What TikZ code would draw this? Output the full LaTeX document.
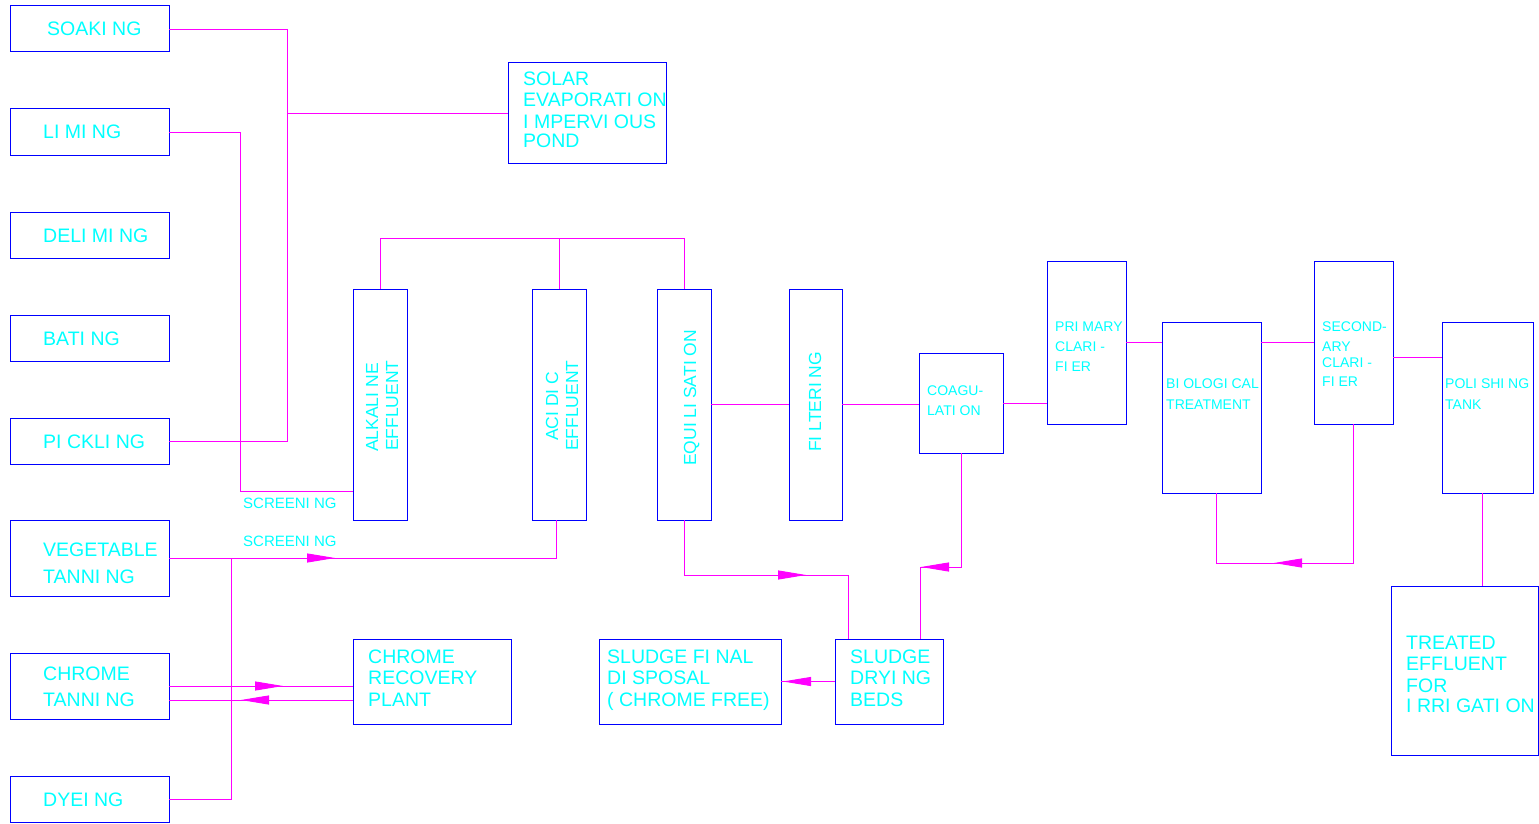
\documentclass[tikz,border=0pt]{standalone}
\usepackage{fontspec}
\setmainfont{Liberation Sans}
\usetikzlibrary{arrows.meta,decorations.markings}
\definecolor{boxblue}{RGB}{0,0,255}
\definecolor{wirem}{RGB}{255,0,255}
\definecolor{txtc}{RGB}{0,255,255}
\begin{document}
\begin{tikzpicture}[x=1pt,y=-1pt,
  box/.style={draw=boxblue, line width=1pt, inner sep=0pt, outer sep=0pt, anchor=north west},
  wire/.style={color=wirem, line width=0.9pt},
  arr/.style={postaction={decorate}, decoration={markings, mark=at position #1 with {\arrow{Triangle[length=28pt,width=9pt]}}}},
  big/.style={font=\fontsize{19.5}{21}\selectfont, text=txtc, inner sep=0pt, anchor=base west},
  small/.style={font=\fontsize{14}{16}\selectfont, text=txtc, inner sep=0pt, anchor=base west},
  scr/.style={font=\fontsize{15}{17}\selectfont, text=txtc, inner sep=0pt, anchor=base west},
  vert/.style={font=\fontsize{17.5}{19}\selectfont, text=txtc, inner sep=0pt, anchor=base west, rotate=90}]
\useasboundingbox (0,0) rectangle (1539,824);
% left column
\node[box, minimum width=159pt, minimum height=46pt] (soak) at (10,6) {};
\node[box, minimum width=159pt, minimum height=46pt] (lim) at (10,109) {};
\node[box, minimum width=159pt, minimum height=46pt] (delim) at (10,212) {};
\node[box, minimum width=159pt, minimum height=46pt] (bat) at (10,315) {};
\node[box, minimum width=159pt, minimum height=46pt] (pick) at (10,418) {};
\node[box, minimum width=159pt, minimum height=76pt] (veg) at (10,520) {};
\node[box, minimum width=159pt, minimum height=66pt] (ct) at (10,653) {};
\node[box, minimum width=159pt, minimum height=46pt] (dye) at (10,776) {};
\node[big] (tsoak) at (47,36) {SOAKI NG};
\node[big] (tlim) at (43,139) {LI MI NG};
\node[big] (tdelim) at (43,242) {DELI MI NG};
\node[big] (tbat) at (43,345) {BATI NG};
\node[big] (tpick) at (43,448) {PI CKLI NG};
\node[big] (tveg1) at (43,556) {VEGETABLE};
\node[big] (tveg2) at (43,583) {TANNI NG};
\node[big] (tct1) at (43,680) {CHROME};
\node[big] (tct2) at (43,706) {TANNI NG};
\node[big] (tdye) at (43,806) {DYEI NG};
% solar
\node[box, minimum width=158pt, minimum height=100pt] (solar) at (508,63) {};
\node[big] (tsol1) at (523,86) {SOLAR};
\node[big] (tsol2) at (523,107) {EVAPORATI ON};
\node[big] (tsol3) at (523,129) {I MPERVI OUS};
\node[big] (tsol4) at (523,148) {POND};
% vertical boxes
\node[box, minimum width=54pt, minimum height=231pt] (alk) at (353,289) {};
\node[box, minimum width=54pt, minimum height=231pt] (acid) at (532,289) {};
\node[box, minimum width=54pt, minimum height=231pt] (equ) at (657,289) {};
\node[box, minimum width=53pt, minimum height=231pt] (filt) at (789,289) {};
\node[vert] (talk1) at (378,452) {ALKALI NE};
\node[vert] (talk2) at (398,451) {EFFLUENT};
\node[vert] (tacid1) at (558,441) {ACI DI C};
\node[vert] (tacid2) at (578,451) {EFFLUENT};
\node[vert] (tequ) at (696,466) {EQUI LI SATI ON};
\node[vert] (tfilt) at (821,452) {FI LTERI NG};
% treatment chain
\node[box, minimum width=84pt, minimum height=100pt] (coag) at (919,353) {};
\node[box, minimum width=79pt, minimum height=163pt] (prim) at (1047,261) {};
\node[box, minimum width=99pt, minimum height=171pt] (bio) at (1162,322) {};
\node[box, minimum width=79pt, minimum height=163pt] (sec) at (1314,261) {};
\node[box, minimum width=91pt, minimum height=171pt] (pol) at (1442,322) {};
\node[box, minimum width=147pt, minimum height=169pt] (treat) at (1391,586) {};
\node[small] (tcoag1) at (927,395) {COAGU-};
\node[small] (tcoag2) at (927,415) {LATI ON};
\node[small] (tprim1) at (1055,331) {PRI MARY};
\node[small] (tprim2) at (1055,351) {CLARI -};
\node[small] (tprim3) at (1055,371) {FI ER};
\node[small] (tbio1) at (1166,388) {BI OLOGI CAL};
\node[small] (tbio2) at (1166,409) {TREATMENT};
\node[small] (tsec1) at (1322,331) {SECOND-};
\node[small] (tsec2) at (1322,351) {ARY};
\node[small] (tsec3) at (1322,367) {CLARI -};
\node[small] (tsec4) at (1322,386) {FI ER};
\node[small] (tpol1) at (1445,388) {POLI SHI NG};
\node[small] (tpol2) at (1445,409) {TANK};
\node[big] (ttr1) at (1406,649) {TREATED};
\node[big] (ttr2) at (1406,670) {EFFLUENT};
\node[big] (ttr3) at (1406,692) {FOR};
\node[big] (ttr4) at (1406,712) {I RRI GATI ON};
% bottom boxes
\node[box, minimum width=158pt, minimum height=85pt] (crp) at (353,639) {};
\node[box, minimum width=182pt, minimum height=85pt] (disp) at (599,639) {};
\node[box, minimum width=108pt, minimum height=85pt] (dry) at (835,639) {};
\node[big] (tcrp1) at (368,663) {CHROME};
\node[big] (tcrp2) at (368,684) {RECOVERY};
\node[big] (tcrp3) at (368,706) {PLANT};
\node[big] (tdisp1) at (607,663) {SLUDGE  FI NAL};
\node[big] (tdisp2) at (607,684) {DI SPOSAL};
\node[big] (tdisp3) at (607,706) {( CHROME  FREE)};
\node[big] (tdry1) at (850,663) {SLUDGE};
\node[big] (tdry2) at (850,684) {DRYI NG};
\node[big] (tdry3) at (850,706) {BEDS};
% screening labels
\node[scr] (tscr1) at (243,508.5) {SCREENI NG};
\node[scr] (tscr2) at (243,546.5) {SCREENI NG};
% connectors
\draw[wire] (soak.east) -- (287,29) -- (287,441) -- (pick.east);
\draw[wire] (287,113) -- (solar.west);
\draw[wire] (lim.east) -| (240,491) -- (alk.west |- 0,491);
\draw[wire] (alk.north) -- (380,238) -- (684,238) -- (equ.north);
\draw[wire] (acid.north) -- (acid.north |- 0,238);
\draw[wire] (equ.east) -- (filt.west);
\draw[wire] (filt.east) -- (coag.west |- filt.east);
\draw[wire] (coag.east) -- (prim.west |- coag.east);
\draw[wire] (prim.east) -- (bio.west |- prim.east);
\draw[wire] (bio.east |- prim.east) -- (sec.west |- prim.east);
\draw[wire] (sec.east |- 0,357) -- (pol.west |- 0,357);
\draw[wire] (pol.south -| 1482,0) -- (treat.north -| 1482,0);
\draw[wire, arr=218.5pt] (sec.south) -- (sec.south |- 0,563) -- (1216,563) -- (bio.south -| 1216,0);
\draw[wire, arr=154pt] (coag.south) -- (coag.south |- 0,567) -- (920,567) -- (dry.north -| 920,0);
\draw[wire, arr=177pt] (equ.south) -- (equ.south |- 0,575) -- (848,575) -- (dry.north -| 848,0);
\draw[wire, arr=52pt] (dry.west) -- (disp.east |- dry.west);
\draw[wire, arr=166pt] (veg.east) -- (556,558) -- (acid.south -| 556,0);
\draw[wire] (dye.east) -- (231,799) -- (231,558);
\draw[wire, arr=114pt] (ct.east) -- (crp.west |- ct.east);
\draw[wire, arr=112pt] (crp.west |- 0,700) -- (ct.east |- 0,700);
\end{tikzpicture}
\end{document}
